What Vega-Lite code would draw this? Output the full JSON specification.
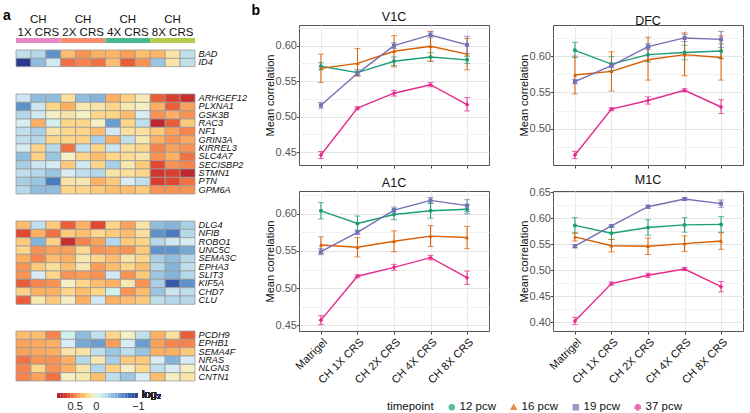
{
  "$schema": "https://vega.github.io/schema/vega-lite/v6.json",
  "padding": {"left": 3, "top": 3, "right": 2, "bottom": 0},
  "config": {
    "font": "Liberation Sans",
    "view": {"stroke": null},
    "title": {"fontWeight": "bold", "fontSize": 14, "color": "#000"},
    "axis": {"labelFontSize": 11, "titleFontWeight": "normal"}
  },
  "datasets": {
    "heat": [
      {"g": "BAD", "k": 1, "A1": -0.2, "A2": -0.25, "A3": -0.6, "B1": 0.3, "B2": 0.45, "B3": 0.35, "C1": 0.33, "C2": 0.42, "C3": 0.3, "D1": 0.33, "D2": 0.12, "D3": -0.2},
      {"g": "ID4", "k": 1, "A1": -1, "A2": -0.4, "A3": -0.12, "B1": 0.55, "B2": 0.5, "B3": 0.55, "C1": 0.3, "C2": 0.6, "C3": 0.45, "D1": -0.35, "D2": 0.12, "D3": -0.2},
      {"g": "ARHGEF12", "k": 2, "A1": -0.15, "A2": -0.4, "A3": -0.4, "B1": 0.15, "B2": -0.4, "B3": -0.45, "C1": 0.35, "C2": 0.22, "C3": 0.08, "D1": 0.6, "D2": 0.7, "D3": 0.8},
      {"g": "PLXNA1", "k": 2, "A1": -0.6, "A2": -0.15, "A3": 0.2, "B1": 0.35, "B2": 0.1, "B3": 0.12, "C1": 0.2, "C2": 0.1, "C3": 0.05, "D1": 0.35, "D2": 0.6, "D3": 0.4},
      {"g": "GSK3B", "k": 2, "A1": -0.25, "A2": -0.12, "A3": 0.05, "B1": 0.12, "B2": 0.05, "B3": 0.2, "C1": 0.2, "C2": 0.3, "C3": -0.1, "D1": 0.45, "D2": 0.35, "D3": 0.45},
      {"g": "RAC3", "k": 2, "A1": -0.1, "A2": 0.35, "A3": -0.08, "B1": 0.2, "B2": 0.2, "B3": 0.05, "C1": -0.55, "C2": 0.2, "C3": -0.2, "D1": 0.85, "D2": 0.6, "D3": 0.25},
      {"g": "NF1", "k": 2, "A1": -0.2, "A2": -0.3, "A3": 0.12, "B1": 0.2, "B2": 0.2, "B3": 0.3, "C1": -0.12, "C2": 0.15, "C3": 0.15, "D1": 0.25, "D2": 0.4, "D3": 0.5},
      {"g": "GRIN3A", "k": 2, "A1": -0.2, "A2": -0.25, "A3": 0.2, "B1": 0.2, "B2": 0.22, "B3": -0.3, "C1": 0.35, "C2": -0.2, "C3": 0.1, "D1": 0.35, "D2": 0.45, "D3": 0.38},
      {"g": "KIRREL3", "k": 2, "A1": -0.1, "A2": 0.2, "A3": -0.25, "B1": 0.55, "B2": -0.2, "B3": 0.2, "C1": -0.15, "C2": 0.15, "C3": 0.2, "D1": 0.5, "D2": 0.4, "D3": 0.45},
      {"g": "SLC4A7", "k": 2, "A1": -0.4, "A2": 0.22, "A3": -0.35, "B1": 0.05, "B2": 0.2, "B3": 0.3, "C1": 0.2, "C2": 0.18, "C3": 0.12, "D1": 0.45, "D2": 0.35, "D3": 0.55},
      {"g": "SECISBP2", "k": 2, "A1": -0.3, "A2": -0.15, "A3": -0.1, "B1": 0.25, "B2": -0.12, "B3": 0.2, "C1": -0.3, "C2": 0.1, "C3": 0.25, "D1": 0.65, "D2": 0.45, "D3": 0.5},
      {"g": "STMN1", "k": 2, "A1": -0.2, "A2": -0.25, "A3": -0.35, "B1": -0.1, "B2": -0.2, "B3": -0.25, "C1": 0.12, "C2": 0.15, "C3": 0.2, "D1": 0.75, "D2": 0.7, "D3": 0.85},
      {"g": "PTN", "k": 2, "A1": -0.3, "A2": -0.35, "A3": -0.7, "B1": 0.12, "B2": 0.1, "B3": 0.35, "C1": 0.25, "C2": -0.1, "C3": -0.2, "D1": 0.7, "D2": 0.65, "D3": 0.55},
      {"g": "GPM6A", "k": 2, "A1": -0.25, "A2": -0.4, "A3": -0.4, "B1": 0.2, "B2": 0.2, "B3": 0.25, "C1": 0.3, "C2": 0.3, "C3": 0.25, "D1": 0.45, "D2": 0.45, "D3": 0.45},
      {"g": "DLG4", "k": 3, "A1": 0.3, "A2": -0.2, "A3": 0.25, "B1": 0.6, "B2": 0.35, "B3": 0.65, "C1": 0.2, "C2": 0.4, "C3": 0.12, "D1": -0.4, "D2": -0.45, "D3": -0.3},
      {"g": "NFIB", "k": 3, "A1": 0.65, "A2": 0.35, "A3": 0.55, "B1": 0.25, "B2": 0.3, "B3": 0.2, "C1": 0.25, "C2": 0.3, "C3": 0.15, "D1": -0.6, "D2": -0.7, "D3": -0.25},
      {"g": "ROBO1", "k": 3, "A1": 0.25, "A2": -0.45, "A3": 0.22, "B1": 0.8, "B2": 0.5, "B3": 0.4, "C1": -0.25, "C2": 0.25, "C3": 0.2, "D1": -0.25, "D2": -0.12, "D3": -0.1},
      {"g": "UNC5C", "k": 3, "A1": 0.2, "A2": 0.45, "A3": 0.4, "B1": 0.4, "B2": 0.18, "B3": 0.45, "C1": 0.42, "C2": 0.45, "C3": 0.25, "D1": -0.6, "D2": -0.6, "D3": -0.5},
      {"g": "SEMA3C", "k": 3, "A1": 0.35, "A2": 0.5, "A3": 0.3, "B1": 0.35, "B2": 0.1, "B3": 0.2, "C1": 0.3, "C2": 0.12, "C3": 0.2, "D1": -0.3, "D2": -0.4, "D3": -0.25},
      {"g": "EPHA3", "k": 3, "A1": 0.45, "A2": 0.25, "A3": 0.15, "B1": 0.3, "B2": 0.1, "B3": 0.42, "C1": 0.3, "C2": 0.2, "C3": 0.3, "D1": -0.25, "D2": -0.45, "D3": -0.2},
      {"g": "SLIT3", "k": 3, "A1": 0.45, "A2": -0.1, "A3": 0.2, "B1": 0.45, "B2": 0.42, "B3": 0.45, "C1": -0.12, "C2": 0.45, "C3": 0.25, "D1": -0.35, "D2": -0.45, "D3": -0.25},
      {"g": "KIF5A", "k": 3, "A1": 0.6, "A2": 0.5, "A3": 0.45, "B1": 0.05, "B2": 0.2, "B3": 0.3, "C1": 0.35, "C2": 0.1, "C3": 0.45, "D1": -0.3, "D2": -0.85, "D3": -0.6},
      {"g": "CHD7", "k": 3, "A1": 0.22, "A2": 0.35, "A3": 0.35, "B1": 0.2, "B2": 0.3, "B3": 0.2, "C1": -0.05, "C2": 0.45, "C3": 0.3, "D1": -0.35, "D2": -0.15, "D3": -0.2},
      {"g": "CLU", "k": 3, "A1": 0.6, "A2": 0.1, "A3": 0.25, "B1": 0.05, "B2": 0.35, "B3": -0.12, "C1": 0.35, "C2": 0.3, "C3": 0.25, "D1": -0.2, "D2": -0.25, "D3": -0.25},
      {"g": "PCDH9", "k": 4, "A1": 0.3, "A2": 0.3, "A3": 0.5, "B1": -0.05, "B2": -0.4, "B3": -0.2, "C1": 0.2, "C2": 0.05, "C3": -0.2, "D1": 0.35, "D2": 0.15, "D3": 0.6},
      {"g": "EPHB1", "k": 4, "A1": 0.4, "A2": 0.38, "A3": 0.35, "B1": -0.1, "B2": -0.5, "B3": -0.55, "C1": 0.42, "C2": -0.1, "C3": -0.55, "D1": 0.4, "D2": 0.5, "D3": 0.5},
      {"g": "SEMA4F", "k": 4, "A1": 0.4, "A2": 0.38, "A3": 0.35, "B1": 0.12, "B2": 0.12, "B3": -0.2, "C1": -0.35, "C2": -0.2, "C3": -0.35, "D1": 0.35, "D2": 0.35, "D3": 0.25},
      {"g": "NRAS", "k": 4, "A1": 0.55, "A2": 0.45, "A3": 0.45, "B1": 0.35, "B2": -0.25, "B3": 0.1, "C1": -0.3, "C2": 0.25, "C3": 0.25, "D1": -0.1, "D2": -0.45, "D3": -0.1},
      {"g": "NLGN3", "k": 4, "A1": 0.5, "A2": 0.2, "A3": 0.45, "B1": 0.35, "B2": 0.12, "B3": -0.25, "C1": 0.22, "C2": 0.05, "C3": 0.2, "D1": -0.2, "D2": -0.1, "D3": 0.05},
      {"g": "CNTN1", "k": 4, "A1": 0.5, "A2": 0.4, "A3": 0.55, "B1": 0.05, "B2": 0.1, "B3": 0.3, "C1": -0.2, "C2": -0.35, "C3": -0.1, "D1": 0.3, "D2": 0.05, "D3": 0.12}
    ],
    "lines": [
      {"r": "V1C", "t": "12 pcw", "c": "Matrigel", "m": 0.571, "lo": 0.566, "hi": 0.576},
      {"r": "V1C", "t": "12 pcw", "c": "CH 1X CRS", "m": 0.562, "lo": 0.558, "hi": 0.566},
      {"r": "V1C", "t": "12 pcw", "c": "CH 2X CRS", "m": 0.578, "lo": 0.572, "hi": 0.584},
      {"r": "V1C", "t": "12 pcw", "c": "CH 4X CRS", "m": 0.584, "lo": 0.578, "hi": 0.590},
      {"r": "V1C", "t": "12 pcw", "c": "CH 8X CRS", "m": 0.580, "lo": 0.575, "hi": 0.585},
      {"r": "V1C", "t": "16 pcw", "c": "Matrigel", "m": 0.568, "lo": 0.548, "hi": 0.588},
      {"r": "V1C", "t": "16 pcw", "c": "CH 1X CRS", "m": 0.575, "lo": 0.557, "hi": 0.596},
      {"r": "V1C", "t": "16 pcw", "c": "CH 2X CRS", "m": 0.592, "lo": 0.570, "hi": 0.614},
      {"r": "V1C", "t": "16 pcw", "c": "CH 4X CRS", "m": 0.599, "lo": 0.578, "hi": 0.620},
      {"r": "V1C", "t": "16 pcw", "c": "CH 8X CRS", "m": 0.588, "lo": 0.566, "hi": 0.610},
      {"r": "V1C", "t": "19 pcw", "c": "Matrigel", "m": 0.516, "lo": 0.512, "hi": 0.520},
      {"r": "V1C", "t": "19 pcw", "c": "CH 1X CRS", "m": 0.561, "lo": 0.558, "hi": 0.564},
      {"r": "V1C", "t": "19 pcw", "c": "CH 2X CRS", "m": 0.600, "lo": 0.596, "hi": 0.604},
      {"r": "V1C", "t": "19 pcw", "c": "CH 4X CRS", "m": 0.615, "lo": 0.611, "hi": 0.619},
      {"r": "V1C", "t": "19 pcw", "c": "CH 8X CRS", "m": 0.601, "lo": 0.589, "hi": 0.613},
      {"r": "V1C", "t": "37 pcw", "c": "Matrigel", "m": 0.446, "lo": 0.441, "hi": 0.451},
      {"r": "V1C", "t": "37 pcw", "c": "CH 1X CRS", "m": 0.512, "lo": 0.510, "hi": 0.514},
      {"r": "V1C", "t": "37 pcw", "c": "CH 2X CRS", "m": 0.533, "lo": 0.529, "hi": 0.537},
      {"r": "V1C", "t": "37 pcw", "c": "CH 4X CRS", "m": 0.545, "lo": 0.542, "hi": 0.548},
      {"r": "V1C", "t": "37 pcw", "c": "CH 8X CRS", "m": 0.517, "lo": 0.508, "hi": 0.527},
      {"r": "DFC", "t": "12 pcw", "c": "Matrigel", "m": 0.608, "lo": 0.598, "hi": 0.619},
      {"r": "DFC", "t": "12 pcw", "c": "CH 1X CRS", "m": 0.589, "lo": 0.580, "hi": 0.599},
      {"r": "DFC", "t": "12 pcw", "c": "CH 2X CRS", "m": 0.602, "lo": 0.592, "hi": 0.612},
      {"r": "DFC", "t": "12 pcw", "c": "CH 4X CRS", "m": 0.605, "lo": 0.595, "hi": 0.615},
      {"r": "DFC", "t": "12 pcw", "c": "CH 8X CRS", "m": 0.607, "lo": 0.597, "hi": 0.617},
      {"r": "DFC", "t": "16 pcw", "c": "Matrigel", "m": 0.574, "lo": 0.548, "hi": 0.600},
      {"r": "DFC", "t": "16 pcw", "c": "CH 1X CRS", "m": 0.579, "lo": 0.552, "hi": 0.606},
      {"r": "DFC", "t": "16 pcw", "c": "CH 2X CRS", "m": 0.595, "lo": 0.567, "hi": 0.626},
      {"r": "DFC", "t": "16 pcw", "c": "CH 4X CRS", "m": 0.602, "lo": 0.573, "hi": 0.632},
      {"r": "DFC", "t": "16 pcw", "c": "CH 8X CRS", "m": 0.598, "lo": 0.567, "hi": 0.628},
      {"r": "DFC", "t": "19 pcw", "c": "Matrigel", "m": 0.565, "lo": 0.562, "hi": 0.568},
      {"r": "DFC", "t": "19 pcw", "c": "CH 1X CRS", "m": 0.587, "lo": 0.584, "hi": 0.590},
      {"r": "DFC", "t": "19 pcw", "c": "CH 2X CRS", "m": 0.613, "lo": 0.609, "hi": 0.617},
      {"r": "DFC", "t": "19 pcw", "c": "CH 4X CRS", "m": 0.625, "lo": 0.620, "hi": 0.630},
      {"r": "DFC", "t": "19 pcw", "c": "CH 8X CRS", "m": 0.623, "lo": 0.612, "hi": 0.634},
      {"r": "DFC", "t": "37 pcw", "c": "Matrigel", "m": 0.464, "lo": 0.459, "hi": 0.469},
      {"r": "DFC", "t": "37 pcw", "c": "CH 1X CRS", "m": 0.527, "lo": 0.525, "hi": 0.529},
      {"r": "DFC", "t": "37 pcw", "c": "CH 2X CRS", "m": 0.539, "lo": 0.534, "hi": 0.544},
      {"r": "DFC", "t": "37 pcw", "c": "CH 4X CRS", "m": 0.553, "lo": 0.551, "hi": 0.555},
      {"r": "DFC", "t": "37 pcw", "c": "CH 8X CRS", "m": 0.530, "lo": 0.521, "hi": 0.540},
      {"r": "A1C", "t": "12 pcw", "c": "Matrigel", "m": 0.604, "lo": 0.593, "hi": 0.615},
      {"r": "A1C", "t": "12 pcw", "c": "CH 1X CRS", "m": 0.587, "lo": 0.577, "hi": 0.597},
      {"r": "A1C", "t": "12 pcw", "c": "CH 2X CRS", "m": 0.599, "lo": 0.592, "hi": 0.606},
      {"r": "A1C", "t": "12 pcw", "c": "CH 4X CRS", "m": 0.604, "lo": 0.594, "hi": 0.614},
      {"r": "A1C", "t": "12 pcw", "c": "CH 8X CRS", "m": 0.606, "lo": 0.600, "hi": 0.612},
      {"r": "A1C", "t": "16 pcw", "c": "Matrigel", "m": 0.558, "lo": 0.547, "hi": 0.569},
      {"r": "A1C", "t": "16 pcw", "c": "CH 1X CRS", "m": 0.555, "lo": 0.542, "hi": 0.568},
      {"r": "A1C", "t": "16 pcw", "c": "CH 2X CRS", "m": 0.563, "lo": 0.549, "hi": 0.577},
      {"r": "A1C", "t": "16 pcw", "c": "CH 4X CRS", "m": 0.570, "lo": 0.556, "hi": 0.584},
      {"r": "A1C", "t": "16 pcw", "c": "CH 8X CRS", "m": 0.568, "lo": 0.553, "hi": 0.583},
      {"r": "A1C", "t": "19 pcw", "c": "Matrigel", "m": 0.549, "lo": 0.545, "hi": 0.553},
      {"r": "A1C", "t": "19 pcw", "c": "CH 1X CRS", "m": 0.575, "lo": 0.572, "hi": 0.578},
      {"r": "A1C", "t": "19 pcw", "c": "CH 2X CRS", "m": 0.605, "lo": 0.601, "hi": 0.609},
      {"r": "A1C", "t": "19 pcw", "c": "CH 4X CRS", "m": 0.618, "lo": 0.614, "hi": 0.622},
      {"r": "A1C", "t": "19 pcw", "c": "CH 8X CRS", "m": 0.611, "lo": 0.603, "hi": 0.619},
      {"r": "A1C", "t": "37 pcw", "c": "Matrigel", "m": 0.457, "lo": 0.451, "hi": 0.463},
      {"r": "A1C", "t": "37 pcw", "c": "CH 1X CRS", "m": 0.516, "lo": 0.514, "hi": 0.518},
      {"r": "A1C", "t": "37 pcw", "c": "CH 2X CRS", "m": 0.528, "lo": 0.524, "hi": 0.532},
      {"r": "A1C", "t": "37 pcw", "c": "CH 4X CRS", "m": 0.541, "lo": 0.538, "hi": 0.544},
      {"r": "A1C", "t": "37 pcw", "c": "CH 8X CRS", "m": 0.514, "lo": 0.505, "hi": 0.523},
      {"r": "M1C", "t": "12 pcw", "c": "Matrigel", "m": 0.586, "lo": 0.571, "hi": 0.601},
      {"r": "M1C", "t": "12 pcw", "c": "CH 1X CRS", "m": 0.571, "lo": 0.559, "hi": 0.583},
      {"r": "M1C", "t": "12 pcw", "c": "CH 2X CRS", "m": 0.582, "lo": 0.567, "hi": 0.597},
      {"r": "M1C", "t": "12 pcw", "c": "CH 4X CRS", "m": 0.587, "lo": 0.573, "hi": 0.601},
      {"r": "M1C", "t": "12 pcw", "c": "CH 8X CRS", "m": 0.588, "lo": 0.573, "hi": 0.603},
      {"r": "M1C", "t": "16 pcw", "c": "Matrigel", "m": 0.564, "lo": 0.556, "hi": 0.572},
      {"r": "M1C", "t": "16 pcw", "c": "CH 1X CRS", "m": 0.547, "lo": 0.535, "hi": 0.559},
      {"r": "M1C", "t": "16 pcw", "c": "CH 2X CRS", "m": 0.546, "lo": 0.530, "hi": 0.562},
      {"r": "M1C", "t": "16 pcw", "c": "CH 4X CRS", "m": 0.551, "lo": 0.536, "hi": 0.566},
      {"r": "M1C", "t": "16 pcw", "c": "CH 8X CRS", "m": 0.556, "lo": 0.540, "hi": 0.572},
      {"r": "M1C", "t": "19 pcw", "c": "Matrigel", "m": 0.546, "lo": 0.543, "hi": 0.549},
      {"r": "M1C", "t": "19 pcw", "c": "CH 1X CRS", "m": 0.585, "lo": 0.583, "hi": 0.587},
      {"r": "M1C", "t": "19 pcw", "c": "CH 2X CRS", "m": 0.622, "lo": 0.619, "hi": 0.625},
      {"r": "M1C", "t": "19 pcw", "c": "CH 4X CRS", "m": 0.637, "lo": 0.634, "hi": 0.640},
      {"r": "M1C", "t": "19 pcw", "c": "CH 8X CRS", "m": 0.628, "lo": 0.621, "hi": 0.635},
      {"r": "M1C", "t": "37 pcw", "c": "Matrigel", "m": 0.402, "lo": 0.395, "hi": 0.409},
      {"r": "M1C", "t": "37 pcw", "c": "CH 1X CRS", "m": 0.474, "lo": 0.471, "hi": 0.477},
      {"r": "M1C", "t": "37 pcw", "c": "CH 2X CRS", "m": 0.490, "lo": 0.486, "hi": 0.494},
      {"r": "M1C", "t": "37 pcw", "c": "CH 4X CRS", "m": 0.502, "lo": 0.499, "hi": 0.505},
      {"r": "M1C", "t": "37 pcw", "c": "CH 8X CRS", "m": 0.468, "lo": 0.458, "hi": 0.478}
    ]
  },
  "resolve": {"scale": {"color": "independent", "fill": "independent", "shape": "independent", "x": "independent", "y": "independent"}, "legend": {"color": "independent", "shape": "independent"}},
  "spacing": 4,
  "hconcat": [
    {
      "resolve": {"scale": {"color": "independent", "fill": "independent", "x": "independent", "y": "independent"}},
      "spacing": 25,
      "vconcat": [
        {
          "spacing": 6,
          "vconcat": [
            {
              "width": 179, "height": 18,
              "title": {"text": "a", "anchor": "start", "dx": -13, "offset": -9, "fontSize": 14, "fontWeight": "bold"},
              "view": {"stroke": null},
              "data": {"values": [
                {"c": "1X", "l1": "CH", "l2": "1X CRS"},
                {"c": "2X", "l1": "CH", "l2": "2X CRS"},
                {"c": "4X", "l1": "CH", "l2": "4X CRS"},
                {"c": "8X", "l1": "CH", "l2": "8X CRS"}
              ]},
              "layer": [
                {
                  "mark": {"type": "rect"},
                  "encoding": {
                    "x": {"field": "c", "type": "ordinal", "axis": null, "scale": {"paddingInner": 0, "paddingOuter": 0}},
                    "y": {"datum": 0, "type": "quantitative", "scale": {"domain": [0, 3.6], "nice": false, "zero": false}, "axis": null},
                    "y2": {"datum": 1},
                    "fill": {"field": "c", "type": "nominal", "scale": {"domain": ["1X", "2X", "4X", "8X"], "range": ["#e58ac4", "#f78d6c", "#46bb8e", "#b3cc4e"]}, "legend": null}
                  }
                },
                {
                  "mark": {"type": "text", "baseline": "bottom", "fontSize": 11.5, "dy": 0, "color": "#111"},
                  "encoding": {
                    "x": {"field": "c", "type": "ordinal"},
                    "y": {"datum": 1, "type": "quantitative"},
                    "text": {"field": "l2"}
                  }
                },
                {
                  "mark": {"type": "text", "baseline": "bottom", "fontSize": 11.5, "dy": -13, "color": "#111"},
                  "encoding": {
                    "x": {"field": "c", "type": "ordinal"},
                    "y": {"datum": 1, "type": "quantitative"},
                    "text": {"field": "l1"}
                  }
                }
              ]
            },
            {
              "width": 179, "height": {"step": 8.33},
              "view": {"stroke": null},
              "data": {"name": "heat"},
              "transform": [{"filter": "datum.k == 1"}, {"fold": ["A1", "A2", "A3", "B1", "B2", "B3", "C1", "C2", "C3", "D1", "D2", "D3"], "as": ["col", "v"]}],
              "mark": {"type": "rect", "stroke": "#9b9b9b", "strokeWidth": 0.8},
              "encoding": {
                "x": {"field": "col", "type": "ordinal", "axis": null, "scale": {"paddingInner": 0, "paddingOuter": 0}},
                "y": {"field": "g", "type": "ordinal", "sort": null, "scale": {"paddingInner": 0, "paddingOuter": 0}, "axis": {"orient": "right", "title": null, "ticks": false, "domain": false, "labelFontStyle": "italic", "labelFontSize": 9.2, "labelPadding": 3, "labelColor": "#111", "labelOverlap": false}},
                "color": {"field": "v", "type": "quantitative", "legend": null, "scale": {"domain": [-1, -0.7, -0.45, -0.25, -0.1, 0.05, 0.2, 0.35, 0.5, 0.65, 0.9], "range": ["#2b3990", "#4a7bbf", "#84b4da", "#b5d8ea", "#d8ecf3", "#f6efc4", "#fed68a", "#fdb062", "#f7844f", "#e2472f", "#b41f2e"], "clamp": true}}
              }
            }
          ]
        },
        {
          "width": 179, "height": {"step": 8.33},
          "view": {"stroke": null},
          "data": {"name": "heat"},
          "transform": [{"filter": "datum.k == 2"}, {"fold": ["A1", "A2", "A3", "B1", "B2", "B3", "C1", "C2", "C3", "D1", "D2", "D3"], "as": ["col", "v"]}],
          "mark": {"type": "rect", "stroke": "#9b9b9b", "strokeWidth": 0.8},
          "encoding": {
            "x": {"field": "col", "type": "ordinal", "axis": null, "scale": {"paddingInner": 0, "paddingOuter": 0}},
            "y": {"field": "g", "type": "ordinal", "sort": null, "scale": {"paddingInner": 0, "paddingOuter": 0}, "axis": {"orient": "right", "title": null, "ticks": false, "domain": false, "labelFontStyle": "italic", "labelFontSize": 9.2, "labelPadding": 3, "labelColor": "#111", "labelOverlap": false}},
            "color": {"field": "v", "type": "quantitative", "legend": null, "scale": {"domain": [-1, -0.7, -0.45, -0.25, -0.1, 0.05, 0.2, 0.35, 0.5, 0.65, 0.9], "range": ["#2b3990", "#4a7bbf", "#84b4da", "#b5d8ea", "#d8ecf3", "#f6efc4", "#fed68a", "#fdb062", "#f7844f", "#e2472f", "#b41f2e"], "clamp": true}}
          }
        },
        {
          "width": 179, "height": {"step": 8.33},
          "view": {"stroke": null},
          "data": {"name": "heat"},
          "transform": [{"filter": "datum.k == 3"}, {"fold": ["A1", "A2", "A3", "B1", "B2", "B3", "C1", "C2", "C3", "D1", "D2", "D3"], "as": ["col", "v"]}],
          "mark": {"type": "rect", "stroke": "#9b9b9b", "strokeWidth": 0.8},
          "encoding": {
            "x": {"field": "col", "type": "ordinal", "axis": null, "scale": {"paddingInner": 0, "paddingOuter": 0}},
            "y": {"field": "g", "type": "ordinal", "sort": null, "scale": {"paddingInner": 0, "paddingOuter": 0}, "axis": {"orient": "right", "title": null, "ticks": false, "domain": false, "labelFontStyle": "italic", "labelFontSize": 9.2, "labelPadding": 3, "labelColor": "#111", "labelOverlap": false}},
            "color": {"field": "v", "type": "quantitative", "legend": null, "scale": {"domain": [-1, -0.7, -0.45, -0.25, -0.1, 0.05, 0.2, 0.35, 0.5, 0.65, 0.9], "range": ["#2b3990", "#4a7bbf", "#84b4da", "#b5d8ea", "#d8ecf3", "#f6efc4", "#fed68a", "#fdb062", "#f7844f", "#e2472f", "#b41f2e"], "clamp": true}}
          }
        },
        {
          "spacing": 6,
          "vconcat": [
            {
              "width": 179, "height": {"step": 8.33},
              "view": {"stroke": null},
              "data": {"name": "heat"},
              "transform": [{"filter": "datum.k == 4"}, {"fold": ["A1", "A2", "A3", "B1", "B2", "B3", "C1", "C2", "C3", "D1", "D2", "D3"], "as": ["col", "v"]}],
              "mark": {"type": "rect", "stroke": "#9b9b9b", "strokeWidth": 0.8},
              "encoding": {
                "x": {"field": "col", "type": "ordinal", "axis": null, "scale": {"paddingInner": 0, "paddingOuter": 0}},
                "y": {"field": "g", "type": "ordinal", "sort": null, "scale": {"paddingInner": 0, "paddingOuter": 0}, "axis": {"orient": "right", "title": null, "ticks": false, "domain": false, "labelFontStyle": "italic", "labelFontSize": 9.2, "labelPadding": 3, "labelColor": "#111", "labelOverlap": false}},
                "color": {"field": "v", "type": "quantitative", "legend": null, "scale": {"domain": [-1, -0.7, -0.45, -0.25, -0.1, 0.05, 0.2, 0.35, 0.5, 0.65, 0.9], "range": ["#2b3990", "#4a7bbf", "#84b4da", "#b5d8ea", "#d8ecf3", "#f6efc4", "#fed68a", "#fdb062", "#f7844f", "#e2472f", "#b41f2e"], "clamp": true}}
              }
            },
            {
              "width": 179, "height": 5,
              "view": {"stroke": null},
              "data": {"values": [
                {"lo": -1.00, "hi": -0.92, "m": -0.96}, {"lo": -0.92, "hi": -0.84, "m": -0.88},
                {"lo": -0.84, "hi": -0.76, "m": -0.80}, {"lo": -0.76, "hi": -0.68, "m": -0.72},
                {"lo": -0.68, "hi": -0.60, "m": -0.64}, {"lo": -0.60, "hi": -0.52, "m": -0.56},
                {"lo": -0.52, "hi": -0.44, "m": -0.48}, {"lo": -0.44, "hi": -0.36, "m": -0.40},
                {"lo": -0.36, "hi": -0.28, "m": -0.32}, {"lo": -0.28, "hi": -0.20, "m": -0.24},
                {"lo": -0.20, "hi": -0.12, "m": -0.16}, {"lo": -0.12, "hi": -0.04, "m": -0.08},
                {"lo": -0.04, "hi": 0.04, "m": 0.00}, {"lo": 0.04, "hi": 0.12, "m": 0.08},
                {"lo": 0.12, "hi": 0.20, "m": 0.16}, {"lo": 0.20, "hi": 0.28, "m": 0.24},
                {"lo": 0.28, "hi": 0.36, "m": 0.32}, {"lo": 0.36, "hi": 0.44, "m": 0.40},
                {"lo": 0.44, "hi": 0.52, "m": 0.48}, {"lo": 0.52, "hi": 0.60, "m": 0.56},
                {"lo": 0.60, "hi": 0.68, "m": 0.64}, {"lo": 0.68, "hi": 0.76, "m": 0.72},
                {"lo": 0.76, "hi": 0.84, "m": 0.80}, {"lo": 0.84, "hi": 0.92, "m": 0.88}
              ]},
              "layer": [
                {
                  "mark": {"type": "rect"},
                  "encoding": {
                    "x": {"field": "lo", "type": "quantitative", "scale": {"domain": [-2.354, 1.894], "reverse": true, "nice": false, "zero": false}, "axis": {"values": [0.5, 0, -1], "format": ".1~f", "title": null, "domain": false, "ticks": false, "grid": false, "labelFontSize": 11, "labelPadding": 2, "labelColor": "#222", "labelFlush": false}},
                    "x2": {"field": "hi"},
                    "color": {"field": "m", "type": "quantitative", "legend": null, "scale": {"domain": [-1, -0.7, -0.45, -0.25, -0.1, 0.05, 0.2, 0.35, 0.5, 0.65, 0.9], "range": ["#2b3990", "#4a7bbf", "#84b4da", "#b5d8ea", "#d8ecf3", "#f6efc4", "#fed68a", "#fdb062", "#f7844f", "#e2472f", "#b41f2e"], "clamp": true}}
                  }
                },
                {
                  "mark": {"type": "text", "align": "left", "dx": 4, "dy": -1, "fontSize": 11, "color": "#222"},
                  "encoding": {
                    "x": {"datum": -1, "type": "quantitative"},
                    "text": {"value": "log₂"}
                  }
                }
              ]
            }
          ]
        }
      ]
    },
    {
      "title": {"text": "b", "anchor": "start", "dx": -12, "offset": -7},
      "data": {"name": "lines"},
      "spacing": 4,
      "vconcat": [
        {
          "spacing": 27,
          "hconcat": [
            {
              "width": 190, "height": 140,
              "title": {"text": "V1C", "fontSize": 12.5, "fontWeight": "normal", "offset": -2, "color": "#111"},
              "view": {"stroke": "#555", "strokeWidth": 1},
              "transform": [{"filter": "datum.r == 'V1C'"}],
              "encoding": {
                "x": {"field": "c", "type": "ordinal", "sort": ["Matrigel", "CH 1X CRS", "CH 2X CRS", "CH 4X CRS", "CH 8X CRS"], "scale": {"type": "point", "padding": 0.6}, "axis": {"title": null, "labels": false, "domain": false, "tickSize": 3, "tickColor": "#444", "grid": true, "gridColor": "#e8e8e8"}},
                "color": {"field": "t", "type": "nominal", "scale": {"domain": ["12 pcw", "16 pcw", "19 pcw", "37 pcw"], "range": ["#1b9e77", "#d95f02", "#7570b3", "#e7298a"]}, "legend": {"title": "timepoint", "orient": "none", "legendX": 88, "legendY": 376, "direction": "horizontal", "titleOrient": "left", "titleFontSize": 11.5, "titleFontWeight": "normal", "titleColor": "#111", "labelFontSize": 11.5, "labelColor": "#111", "symbolSize": 25, "columnPadding": 12, "labelOffset": 2, "titlePadding": 12}}
              },
              "layer": [
                {"mark": {"type": "line", "strokeWidth": 1.4}, "encoding": {"y": {"field": "m", "type": "quantitative", "title": "Mean correlation", "scale": {"zero": false, "nice": false, "padding": 6.4}, "axis": {"titleFontSize": 11, "titleColor": "#111", "titlePadding": 0, "tickCount": 30, "values": [0.375, 0.4, 0.425, 0.45, 0.475, 0.5, 0.525, 0.55, 0.575, 0.6, 0.625, 0.65], "labelExpr": "round(datum.value*1000) % 50 == 0 ? format(datum.value, '.2f') : ''", "labelOverlap": false, "labelFontSize": 11, "labelColor": "#555", "domain": false, "tickSize": 2.5, "tickColor": {"condition": {"test": "round(datum.value*1000) % 50 == 0", "value": "#444"}, "value": "transparent"}, "grid": true, "gridColor": {"condition": {"test": "round(datum.value*1000) % 50 == 0", "value": "#e4e4e4"}, "value": "#f2f2f2"}, "labelPadding": 0}}}},
                {"mark": {"type": "rule", "strokeWidth": 1}, "encoding": {"y": {"field": "lo", "type": "quantitative", "title": "Mean correlation"}, "y2": {"field": "hi"}}},
                {"mark": {"type": "tick", "size": 6, "thickness": 1}, "encoding": {"y": {"field": "lo", "type": "quantitative", "title": "Mean correlation"}}},
                {"mark": {"type": "tick", "size": 6, "thickness": 1}, "encoding": {"y": {"field": "hi", "type": "quantitative", "title": "Mean correlation"}}},
                {"mark": {"type": "point", "filled": true, "size": 16, "opacity": 1}, "encoding": {"y": {"field": "m", "type": "quantitative", "title": "Mean correlation"}, "shape": {"field": "t", "type": "nominal", "scale": {"domain": ["12 pcw", "16 pcw", "19 pcw", "37 pcw"], "range": ["circle", "triangle-up", "square", "cross"]}, "legend": {"title": "timepoint", "orient": "none", "legendX": 88, "legendY": 376, "direction": "horizontal", "titleOrient": "left", "titleFontSize": 11.5, "titleFontWeight": "normal", "titleColor": "#111", "labelFontSize": 11.5, "labelColor": "#111", "symbolSize": 25, "columnPadding": 12, "labelOffset": 2, "titlePadding": 12}}}}
              ]
            },
            {
              "width": 190, "height": 140,
              "title": {"text": "DFC", "fontSize": 12.5, "fontWeight": "normal", "offset": -2, "color": "#111"},
              "view": {"stroke": "#555", "strokeWidth": 1},
              "transform": [{"filter": "datum.r == 'DFC'"}],
              "encoding": {
                "x": {"field": "c", "type": "ordinal", "sort": ["Matrigel", "CH 1X CRS", "CH 2X CRS", "CH 4X CRS", "CH 8X CRS"], "scale": {"type": "point", "padding": 0.6}, "axis": {"title": null, "labels": false, "domain": false, "tickSize": 3, "tickColor": "#444", "grid": true, "gridColor": "#e8e8e8"}},
                "color": {"field": "t", "type": "nominal", "scale": {"domain": ["12 pcw", "16 pcw", "19 pcw", "37 pcw"], "range": ["#1b9e77", "#d95f02", "#7570b3", "#e7298a"]}, "legend": {"title": "timepoint", "orient": "none", "legendX": 88, "legendY": 376, "direction": "horizontal", "titleOrient": "left", "titleFontSize": 11.5, "titleFontWeight": "normal", "titleColor": "#111", "labelFontSize": 11.5, "labelColor": "#111", "symbolSize": 25, "columnPadding": 12, "labelOffset": 2, "titlePadding": 12}}
              },
              "layer": [
                {"mark": {"type": "line", "strokeWidth": 1.4}, "encoding": {"y": {"field": "m", "type": "quantitative", "title": "Mean correlation", "scale": {"zero": false, "nice": false, "padding": 6.4}, "axis": {"titleFontSize": 11, "titleColor": "#111", "titlePadding": 0, "tickCount": 30, "values": [0.375, 0.4, 0.425, 0.45, 0.475, 0.5, 0.525, 0.55, 0.575, 0.6, 0.625, 0.65], "labelExpr": "round(datum.value*1000) % 50 == 0 ? format(datum.value, '.2f') : ''", "labelOverlap": false, "labelFontSize": 11, "labelColor": "#555", "domain": false, "tickSize": 2.5, "tickColor": {"condition": {"test": "round(datum.value*1000) % 50 == 0", "value": "#444"}, "value": "transparent"}, "grid": true, "gridColor": {"condition": {"test": "round(datum.value*1000) % 50 == 0", "value": "#e4e4e4"}, "value": "#f2f2f2"}, "labelPadding": 0}}}},
                {"mark": {"type": "rule", "strokeWidth": 1}, "encoding": {"y": {"field": "lo", "type": "quantitative", "title": "Mean correlation"}, "y2": {"field": "hi"}}},
                {"mark": {"type": "tick", "size": 6, "thickness": 1}, "encoding": {"y": {"field": "lo", "type": "quantitative", "title": "Mean correlation"}}},
                {"mark": {"type": "tick", "size": 6, "thickness": 1}, "encoding": {"y": {"field": "hi", "type": "quantitative", "title": "Mean correlation"}}},
                {"mark": {"type": "point", "filled": true, "size": 16, "opacity": 1}, "encoding": {"y": {"field": "m", "type": "quantitative", "title": "Mean correlation"}, "shape": {"field": "t", "type": "nominal", "scale": {"domain": ["12 pcw", "16 pcw", "19 pcw", "37 pcw"], "range": ["circle", "triangle-up", "square", "cross"]}, "legend": {"title": "timepoint", "orient": "none", "legendX": 88, "legendY": 376, "direction": "horizontal", "titleOrient": "left", "titleFontSize": 11.5, "titleFontWeight": "normal", "titleColor": "#111", "labelFontSize": 11.5, "labelColor": "#111", "symbolSize": 25, "columnPadding": 12, "labelOffset": 2, "titlePadding": 12}}}}
              ]
            }
          ]
        },
        {
          "spacing": 27,
          "hconcat": [
            {
              "width": 190, "height": 140,
              "title": {"text": "A1C", "fontSize": 12.5, "fontWeight": "normal", "offset": 0, "color": "#111"},
              "view": {"stroke": "#555", "strokeWidth": 1},
              "transform": [{"filter": "datum.r == 'A1C'"}],
              "encoding": {
                "x": {"field": "c", "type": "ordinal", "sort": ["Matrigel", "CH 1X CRS", "CH 2X CRS", "CH 4X CRS", "CH 8X CRS"], "scale": {"type": "point", "padding": 0.6}, "axis": {"title": null, "labelAngle": -45, "labelFontSize": 11, "labelColor": "#111", "domain": false, "tickSize": 3, "tickColor": "#444", "grid": true, "gridColor": "#e8e8e8", "labelPadding": 2}},
                "color": {"field": "t", "type": "nominal", "scale": {"domain": ["12 pcw", "16 pcw", "19 pcw", "37 pcw"], "range": ["#1b9e77", "#d95f02", "#7570b3", "#e7298a"]}, "legend": {"title": "timepoint", "orient": "none", "legendX": 88, "legendY": 376, "direction": "horizontal", "titleOrient": "left", "titleFontSize": 11.5, "titleFontWeight": "normal", "titleColor": "#111", "labelFontSize": 11.5, "labelColor": "#111", "symbolSize": 25, "columnPadding": 12, "labelOffset": 2, "titlePadding": 12}}
              },
              "layer": [
                {"mark": {"type": "line", "strokeWidth": 1.4}, "encoding": {"y": {"field": "m", "type": "quantitative", "title": "Mean correlation", "scale": {"zero": false, "nice": false, "padding": 6.4}, "axis": {"titleFontSize": 11, "titleColor": "#111", "titlePadding": 0, "tickCount": 30, "values": [0.375, 0.4, 0.425, 0.45, 0.475, 0.5, 0.525, 0.55, 0.575, 0.6, 0.625, 0.65], "labelExpr": "round(datum.value*1000) % 50 == 0 ? format(datum.value, '.2f') : ''", "labelOverlap": false, "labelFontSize": 11, "labelColor": "#555", "domain": false, "tickSize": 2.5, "tickColor": {"condition": {"test": "round(datum.value*1000) % 50 == 0", "value": "#444"}, "value": "transparent"}, "grid": true, "gridColor": {"condition": {"test": "round(datum.value*1000) % 50 == 0", "value": "#e4e4e4"}, "value": "#f2f2f2"}, "labelPadding": 0}}}},
                {"mark": {"type": "rule", "strokeWidth": 1}, "encoding": {"y": {"field": "lo", "type": "quantitative", "title": "Mean correlation"}, "y2": {"field": "hi"}}},
                {"mark": {"type": "tick", "size": 6, "thickness": 1}, "encoding": {"y": {"field": "lo", "type": "quantitative", "title": "Mean correlation"}}},
                {"mark": {"type": "tick", "size": 6, "thickness": 1}, "encoding": {"y": {"field": "hi", "type": "quantitative", "title": "Mean correlation"}}},
                {"mark": {"type": "point", "filled": true, "size": 16, "opacity": 1}, "encoding": {"y": {"field": "m", "type": "quantitative", "title": "Mean correlation"}, "shape": {"field": "t", "type": "nominal", "scale": {"domain": ["12 pcw", "16 pcw", "19 pcw", "37 pcw"], "range": ["circle", "triangle-up", "square", "cross"]}, "legend": {"title": "timepoint", "orient": "none", "legendX": 88, "legendY": 376, "direction": "horizontal", "titleOrient": "left", "titleFontSize": 11.5, "titleFontWeight": "normal", "titleColor": "#111", "labelFontSize": 11.5, "labelColor": "#111", "symbolSize": 25, "columnPadding": 12, "labelOffset": 2, "titlePadding": 12}}}}
              ]
            },
            {
              "width": 190, "height": 140,
              "title": {"text": "M1C", "fontSize": 12.5, "fontWeight": "normal", "offset": 0, "color": "#111"},
              "view": {"stroke": "#555", "strokeWidth": 1},
              "transform": [{"filter": "datum.r == 'M1C'"}],
              "encoding": {
                "x": {"field": "c", "type": "ordinal", "sort": ["Matrigel", "CH 1X CRS", "CH 2X CRS", "CH 4X CRS", "CH 8X CRS"], "scale": {"type": "point", "padding": 0.6}, "axis": {"title": null, "labelAngle": -45, "labelFontSize": 11, "labelColor": "#111", "domain": false, "tickSize": 3, "tickColor": "#444", "grid": true, "gridColor": "#e8e8e8", "labelPadding": 2}},
                "color": {"field": "t", "type": "nominal", "scale": {"domain": ["12 pcw", "16 pcw", "19 pcw", "37 pcw"], "range": ["#1b9e77", "#d95f02", "#7570b3", "#e7298a"]}, "legend": {"title": "timepoint", "orient": "none", "legendX": 88, "legendY": 376, "direction": "horizontal", "titleOrient": "left", "titleFontSize": 11.5, "titleFontWeight": "normal", "titleColor": "#111", "labelFontSize": 11.5, "labelColor": "#111", "symbolSize": 25, "columnPadding": 12, "labelOffset": 2, "titlePadding": 12}}
              },
              "layer": [
                {"mark": {"type": "line", "strokeWidth": 1.4}, "encoding": {"y": {"field": "m", "type": "quantitative", "title": "Mean correlation", "scale": {"zero": false, "nice": false, "padding": 6.4}, "axis": {"titleFontSize": 11, "titleColor": "#111", "titlePadding": 0, "tickCount": 30, "values": [0.375, 0.4, 0.425, 0.45, 0.475, 0.5, 0.525, 0.55, 0.575, 0.6, 0.625, 0.65], "labelExpr": "round(datum.value*1000) % 50 == 0 ? format(datum.value, '.2f') : ''", "labelOverlap": false, "labelFontSize": 11, "labelColor": "#555", "domain": false, "tickSize": 2.5, "tickColor": {"condition": {"test": "round(datum.value*1000) % 50 == 0", "value": "#444"}, "value": "transparent"}, "grid": true, "gridColor": {"condition": {"test": "round(datum.value*1000) % 50 == 0", "value": "#e4e4e4"}, "value": "#f2f2f2"}, "labelPadding": 0}}}},
                {"mark": {"type": "rule", "strokeWidth": 1}, "encoding": {"y": {"field": "lo", "type": "quantitative", "title": "Mean correlation"}, "y2": {"field": "hi"}}},
                {"mark": {"type": "tick", "size": 6, "thickness": 1}, "encoding": {"y": {"field": "lo", "type": "quantitative", "title": "Mean correlation"}}},
                {"mark": {"type": "tick", "size": 6, "thickness": 1}, "encoding": {"y": {"field": "hi", "type": "quantitative", "title": "Mean correlation"}}},
                {"mark": {"type": "point", "filled": true, "size": 16, "opacity": 1}, "encoding": {"y": {"field": "m", "type": "quantitative", "title": "Mean correlation"}, "shape": {"field": "t", "type": "nominal", "scale": {"domain": ["12 pcw", "16 pcw", "19 pcw", "37 pcw"], "range": ["circle", "triangle-up", "square", "cross"]}, "legend": {"title": "timepoint", "orient": "none", "legendX": 88, "legendY": 376, "direction": "horizontal", "titleOrient": "left", "titleFontSize": 11.5, "titleFontWeight": "normal", "titleColor": "#111", "labelFontSize": 11.5, "labelColor": "#111", "symbolSize": 25, "columnPadding": 12, "labelOffset": 2, "titlePadding": 12}}}}
              ]
            }
          ]
        }
      ]
    }
  ]
}
